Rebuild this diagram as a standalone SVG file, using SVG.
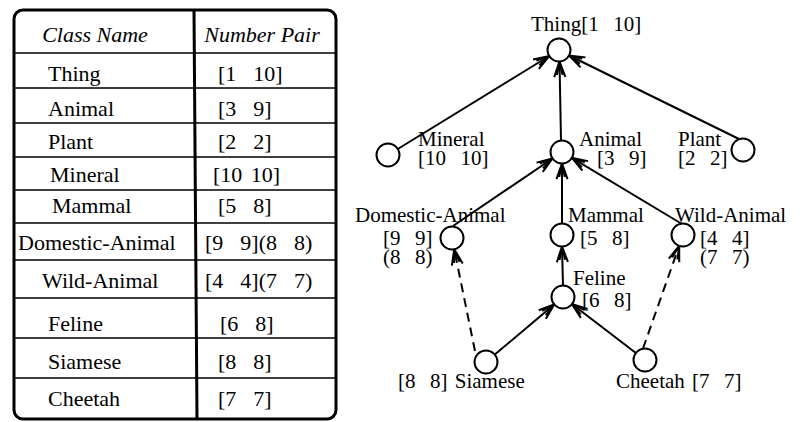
<svg xmlns="http://www.w3.org/2000/svg" width="802" height="422" viewBox="0 0 802 422">
<defs>
<style>
text{font-family:"Liberation Serif","Times New Roman","DejaVu Serif",serif;fill:#000;white-space:pre}
.t{font-size:22px;word-spacing:3px}
.h{font-size:22px;font-style:italic}
.g{font-size:21px;word-spacing:2px}
.rule{stroke:#000;stroke-width:1.6;fill:none}
.edge{stroke:#000;stroke-width:2;fill:none;marker-end:url(#arr)}
.dash{stroke-dasharray:9 6}
.node{fill:#fff;stroke:#000;stroke-width:2}
</style>
<marker id="arr" markerUnits="userSpaceOnUse" markerWidth="20" markerHeight="20" viewBox="-16 -8 18 16" refX="0" refY="0" orient="auto">
<path d="M-14,-5 L0,0 L-14,5 M-12,-2.5 L0,0 L-12,2.5" fill="none" stroke="#000" stroke-width="1.8"/>
</marker>
</defs>
<rect width="802" height="422" fill="#fff"/>
<g id="table">
<rect x="14" y="10" width="322" height="409" rx="9" fill="none" stroke="#000" stroke-width="3"/>
<line x1="194" y1="10" x2="197" y2="419" stroke="#000" stroke-width="3"/>
<path class="rule" d="M14,53H336M14,88H336M14,123H336M14,157H336M14,190H336M14,223H336M14,260H336M14,298H336M14,338H336M14,378H336"/>
<text class="h" x="95" y="42" text-anchor="middle">Class Name</text>
<text class="h" x="262" y="42" text-anchor="middle">Number Pair</text>
<text class="t" x="48" y="81">Thing</text><text class="t" x="218" y="81">[1  10]</text>
<text class="t" x="48" y="116">Animal</text><text class="t" x="218" y="116">[3  9]</text>
<text class="t" x="48" y="149">Plant</text><text class="t" x="218" y="149">[2  2]</text>
<text class="t" x="50" y="182">Mineral</text><text class="t" x="213" y="182">[10 10]</text>
<text class="t" x="52" y="213">Mammal</text><text class="t" x="218" y="213">[5  8]</text>
<text class="t" x="18" y="250">Domestic-Animal</text><text class="t" x="205" y="250">[9  9](8  8)</text>
<text class="t" x="42" y="288">Wild-Animal</text><text class="t" x="205" y="288">[4  4](7  7)</text>
<text class="t" x="48" y="331">Feline</text><text class="t" x="220" y="331">[6  8]</text>
<text class="t" x="48" y="369">Siamese</text><text class="t" x="218" y="369">[8  8]</text>
<text class="t" x="48" y="406">Cheetah</text><text class="t" x="218" y="406">[7  7]</text>
</g>
<g id="connectors">
<path class="edge" d="M397.8,149 L549.2,56"/>
<path class="edge" d="M561,140.5 L559.5,61.5"/>
<path class="edge" d="M739,139 L569.1,55.5"/>
<path class="edge" d="M453,226 L552.5,158.5"/>
<path class="edge" d="M562,223.5 L562,163.5"/>
<path class="edge" d="M682,224 L571.9,157.9"/>
<path class="edge" d="M563,285.5 L562,246.5"/>
<path class="edge" d="M494.8,354.6 L554.2,304.4"/>
<path class="edge" d="M635.9,353 L571.9,304"/>
<path class="edge dash" d="M475,351 L454.2,249.3"/>
<path class="edge dash" d="M643,348.5 L679.2,245.8"/>
</g>
<g id="thing"><circle class="node" cx="559" cy="50" r="11.5"/><text class="g" x="531" y="31">Thing[1  10]</text></g>
<g id="mineral"><circle class="node" cx="388" cy="155" r="11.5"/><text class="g" x="418" y="146">Mineral</text><text class="g" x="418" y="165">[10  10]</text></g>
<g id="animal"><circle class="node" cx="562" cy="152" r="11.5"/><text class="g" x="579" y="146">Animal</text><text class="g" x="597" y="165">[3  9]</text></g>
<g id="plant"><circle class="node" cx="743" cy="150" r="11.5"/><text class="g" x="678" y="146">Plant</text><text class="g" x="678" y="165">[2  2]</text></g>
<g id="domestic-animal"><circle class="node" cx="452" cy="238" r="11.5"/><text class="g" x="355" y="222">Domestic-Animal</text><text class="g" x="383" y="245">[9  9]</text><text class="g" x="383" y="264">(8  8)</text></g>
<g id="mammal"><circle class="node" cx="562" cy="235" r="11.5"/><text class="g" x="568" y="222">Mammal</text><text class="g" x="580" y="245">[5  8]</text></g>
<g id="wild-animal"><circle class="node" cx="683" cy="235" r="11.5"/><text class="g" x="675" y="222">Wild-Animal</text><text class="g" x="700" y="245">[4  4]</text><text class="g" x="700" y="264">(7  7)</text></g>
<g id="feline"><circle class="node" cx="563" cy="297" r="11.5"/><text class="g" x="573" y="285">Feline</text><text class="g" x="582" y="307">[6  8]</text></g>
<g id="siamese"><circle class="node" cx="486" cy="362" r="11.5"/><text class="g" x="398" y="388">[8  8] Siamese</text></g>
<g id="cheetah"><circle class="node" cx="645" cy="360" r="11.5"/><text class="g" x="616" y="388">Cheetah [7  7]</text></g>
</svg>
